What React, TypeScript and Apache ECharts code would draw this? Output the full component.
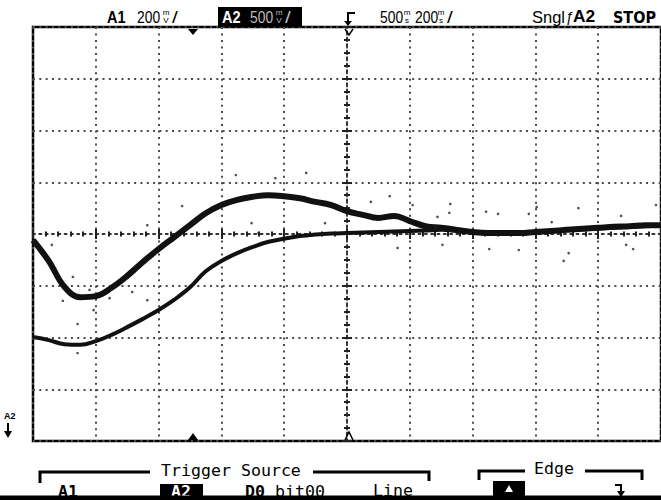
import React, { useEffect, useRef } from "react";
import * as echarts from "echarts";

// Time in ms relative to the screen centre (200 ms/div, centre = 500 ms after trigger)
const timeMs = [-1000, -950, -900, -850, -800, -750, -700, -650, -600, -550, -500, -450, -400, -350, -300, -250, -200, -150, -100, -50, 0, 50, 100, 150, 200, 250, 300, 350, 400, 450, 500, 550, 600, 650, 700, 750, 800, 850, 900, 950, 1000];
// Vertical position in divisions (screen centre = 0)
const upperTrace = [-0.12, -0.52, -1.02, -1.22, -1.2, -1.04, -0.81, -0.54, -0.29, -0.06, 0.17, 0.4, 0.56, 0.66, 0.72, 0.75, 0.73, 0.69, 0.62, 0.56, 0.44, 0.37, 0.31, 0.35, 0.25, 0.15, 0.12, 0.08, 0.04, 0.02, 0.02, 0.02, 0.04, 0.06, 0.08, 0.1, 0.12, 0.14, 0.15, 0.17, 0.17];
const lowerTrace = [-1.99, -2.05, -2.13, -2.14, -2.07, -1.95, -1.8, -1.64, -1.47, -1.27, -1.03, -0.72, -0.52, -0.37, -0.25, -0.15, -0.09, -0.04, -0.01, 0.01, 0.02, 0.03, 0.04, 0.05, 0.06, 0.07, 0.08, 0.06, 0.03, 0.01, 0.01, 0.01, 0.03, 0.05, 0.07, 0.09, 0.11, 0.12, 0.14, 0.15, 0.16];
// Stray acquisition dots
const strayTimeMs = [-1000, -940, -905, -858, -873, -858, -807, -636, -525, -684, -636, -756, -820, -354, -228, -130, -304, -282, 76, 136, -70, 161, 209, 282, 288, 329, 326, 304, 443, 481, 579, 737, 690, 706, 453, 547, 911, 873, 984, 604, 652, 889];
const strayDiv = [0.31, -0.21, -1.29, -1.74, -0.83, -2.3, -1.47, 0.17, 0.54, -1.12, -1.28, -1.24, -1.08, 1.14, 1.08, 1.18, 0.21, 0.02, 0.62, 0.73, 0.21, -0.27, 0.56, 0.14, 0.33, 0.58, 0.41, -0.21, 0.43, 0.39, 0.39, 0.5, -0.52, -0.37, -0.29, -0.31, -0.29, 0.35, 0.56, 0.52, 0.23, -0.21];

const X_MIN = -1000;
const X_MAX = 1000;
const X_STEP = 200;
const Y_MIN = -4;
const Y_MAX = 4;
const Y_STEP = 1;

const SANS = "Liberation Sans";
const MONO = "DejaVu Sans Mono";

function txt(text: string, x: number, y: number, o: any = {}) {
  return {
    type: "text",
    x,
    y,
    scaleX: o.sx ?? 1,
    z: 10,
    style: {
      text,
      fill: o.fill ?? "#000",
      fontFamily: o.family ?? SANS,
      fontSize: o.size ?? 16,
      fontWeight: o.weight ?? "normal",
      align: o.align ?? "left",
      verticalAlign: o.va ?? "middle",
    },
  };
}

function stackedUnit(top: string, bottom: string, x: number, fill = "#000") {
  return [
    txt(top, x, 12, { size: 8, align: "center", fill }),
    txt(bottom, x, 20, { size: 8, align: "center", fill }),
  ];
}

export default function App() {
  const ref = useRef<HTMLDivElement>(null);
  useEffect(() => {
    if (!ref.current) return;
    const chart = echarts.init(ref.current, undefined, { renderer: "svg" });

    const tickStyle = { color: "#222", width: 2 };
    const axisCommon = {
      type: "value",
      axisLabel: { show: false },
      axisTick: { show: true, inside: true, length: 5, lineStyle: tickStyle },
    };

    const graphics: any[] = [
      // header
      txt("A1", 107, 17, { weight: "bold", sx: 0.88, size: 16.5 }),
      txt("200", 137, 17, { sx: 0.84, size: 16.5 }),
      ...stackedUnit("m", "V", 166),
      txt("/", 172, 17, { sx: 1.3 }),
      { type: "rect", shape: { x: 218, y: 7, width: 84, height: 20 }, style: { fill: "#000" }, z: 9 },
      txt("A2", 222, 17, { weight: "bold", sx: 0.88, fill: "#fff", size: 16.5 }),
      txt("500", 250, 17, { sx: 0.84, fill: "#bdbdbd", size: 16.5 }),
      ...stackedUnit("m", "V", 279, "#bdbdbd"),
      txt("/", 285, 17, { sx: 1.3, fill: "#bdbdbd" }),
      { type: "polyline", shape: { points: [[355, 13], [348, 13], [348, 23]] }, style: { stroke: "#000", lineWidth: 2, fill: null }, z: 10 },
      { type: "polygon", shape: { points: [[344, 21], [352, 21], [348, 26]] }, style: { fill: "#000" }, z: 10 },
      txt("500", 380, 17, { sx: 0.84, size: 16.5 }),
      ...stackedUnit("m", "s", 407),
      txt("200", 415, 17, { sx: 0.84, size: 16.5 }),
      ...stackedUnit("m", "s", 441),
      txt("/", 447, 17, { sx: 1.3 }),
      txt("Sngl", 532, 17, { size: 16.5 }),
      txt("ƒ", 566, 17, { size: 14 }),
      txt("A2", 573, 17, { weight: "bold", sx: 1.05, size: 16.5 }),
      txt("STOP", 613, 17, { weight: "bold", sx: 0.96, family: "DejaVu Sans", size: 15 }),
      // trigger markers on the graticule
      { type: "polygon", shape: { points: [[188, 29], [198, 29], [193, 35]] }, style: { fill: "#000" }, z: 10 },
      { type: "polygon", shape: { points: [[188, 440], [198, 440], [193, 433]] }, style: { fill: "#000" }, z: 10 },
      { type: "polyline", shape: { points: [[345, 29], [349, 35], [353, 29]] }, style: { stroke: "#000", lineWidth: 1.5, fill: null }, z: 10 },
      { type: "polyline", shape: { points: [[345, 440], [349, 432], [353, 440]] }, style: { stroke: "#000", lineWidth: 1.5, fill: null }, z: 10 },
      // A2 ground marker
      txt("A2", 4, 416, { size: 9, weight: "bold" }),
      { type: "line", shape: { x1: 8, y1: 423, x2: 8, y2: 434 }, style: { stroke: "#000", lineWidth: 2 }, z: 10 },
      { type: "polygon", shape: { points: [[4, 431], [12, 431], [8, 438]] }, style: { fill: "#000" }, z: 10 },
      // softkey labels
      { type: "polyline", shape: { points: [[40, 483], [40, 472], [150, 472]] }, style: { stroke: "#000", lineWidth: 3, fill: null }, z: 10 },
      txt("Trigger Source", 161, 470, { family: MONO, size: 16.6 }),
      { type: "polyline", shape: { points: [[313, 472], [429, 472], [429, 481]] }, style: { stroke: "#000", lineWidth: 3, fill: null }, z: 10 },
      { type: "polyline", shape: { points: [[479, 480], [479, 471], [525, 471]] }, style: { stroke: "#000", lineWidth: 3, fill: null }, z: 10 },
      txt("Edge", 534, 468, { family: MONO, size: 16.6 }),
      { type: "polyline", shape: { points: [[585, 471], [642, 471], [642, 480]] }, style: { stroke: "#000", lineWidth: 3, fill: null }, z: 10 },
      txt("A1", 58, 491, { family: MONO, size: 16.6, weight: "bold" }),
      { type: "rect", shape: { x: 160, y: 484, width: 43, height: 13 }, style: { fill: "#000" }, z: 9 },
      txt("A2", 171, 491, { family: MONO, size: 16.6, weight: "bold", fill: "#fff" }),
      txt("D0", 245, 491, { family: MONO, size: 16.6, weight: "bold" }),
      txt("bit00", 275, 491, { family: MONO, size: 16.6 }),
      txt("Line", 373, 490.5, { family: MONO, size: 16.6 }),
      { type: "rect", shape: { x: 493, y: 481, width: 32, height: 16 }, style: { fill: "#000" }, z: 9 },
      { type: "polygon", shape: { points: [[505, 492], [513, 492], [509, 485]] }, style: { fill: "#fff" }, z: 10 },
      { type: "polyline", shape: { points: [[615, 485], [621, 485], [621, 492]] }, style: { stroke: "#000", lineWidth: 2, fill: null }, z: 10 },
      { type: "polygon", shape: { points: [[617, 491], [625, 491], [621, 497]] }, style: { fill: "#000" }, z: 10 },
      { type: "rect", shape: { x: 0, y: 495.5, width: 661, height: 4.5 }, style: { fill: "#000" }, z: 11 },
    ];

    chart.setOption({
      animation: false,
      backgroundColor: "#fff",
      grid: { left: 33, top: 27, width: 632, height: 414, show: true, borderColor: "#000", borderWidth: 2.5, backgroundColor: "#fff" },
      xAxis: [
        {
          ...axisCommon,
          min: X_MIN, max: X_MAX, interval: X_STEP, position: "bottom",
          axisLine: { show: true, onZero: true, onZeroAxisIndex: 0, lineStyle: { color: "#333", width: 2, type: [2, 4.32] } },
          minorTick: { show: true, splitNumber: 5, length: 2.5, lineStyle: tickStyle },
          splitLine: { show: true, lineStyle: { color: "#4a4a4a", width: 2, type: [2, 4.47] } },
        },
        {
          ...axisCommon,
          min: X_MIN, max: X_MAX, interval: X_STEP, position: "top",
          axisLine: { show: true, onZero: true, onZeroAxisIndex: 1, lineStyle: { opacity: 0 } },
          minorTick: { show: true, splitNumber: 5, length: 2.5, lineStyle: tickStyle },
          splitLine: { show: false },
        },
      ],
      yAxis: [
        {
          ...axisCommon,
          min: Y_MIN, max: Y_MAX, interval: Y_STEP, position: "left",
          axisLine: { show: true, onZero: true, onZeroAxisIndex: 0, lineStyle: { color: "#333", width: 2, type: [2, 4.47] } },
          minorTick: { show: true, splitNumber: 4, length: 3, lineStyle: tickStyle },
          splitLine: { show: true, lineStyle: { color: "#4a4a4a", width: 2, type: [2, 4.32] } },
        },
        {
          ...axisCommon,
          min: Y_MIN, max: Y_MAX, interval: Y_STEP, position: "right",
          axisLine: { show: true, onZero: true, onZeroAxisIndex: 1, lineStyle: { opacity: 0 } },
          minorTick: { show: true, splitNumber: 4, length: 3, lineStyle: tickStyle },
          splitLine: { show: false },
        },
      ],
      series: [
        {
          name: "A2",
          type: "line",
          data: timeMs.map((t, i) => [t, upperTrace[i]]),
          smooth: 0.4,
          symbol: "none",
          lineStyle: { color: "#111", width: 6 },
          z: 5,
        },
        {
          name: "A1",
          type: "line",
          data: timeMs.map((t, i) => [t, lowerTrace[i]]),
          smooth: 0.4,
          symbol: "none",
          lineStyle: { color: "#111", width: 4 },
          z: 5,
        },
        {
          name: "noise",
          type: "scatter",
          data: strayTimeMs.map((t, i) => [t, strayDiv[i]]),
          symbolSize: 2.6,
          itemStyle: { color: "#222" },
          z: 5,
        },
      ],
      graphic: graphics,
    });
    return () => chart.dispose();
  }, []);
  return <div ref={ref} style={{ position: "fixed", left: 0, top: 0, width: 661, height: 500, background: "#fff" }} />;
}
